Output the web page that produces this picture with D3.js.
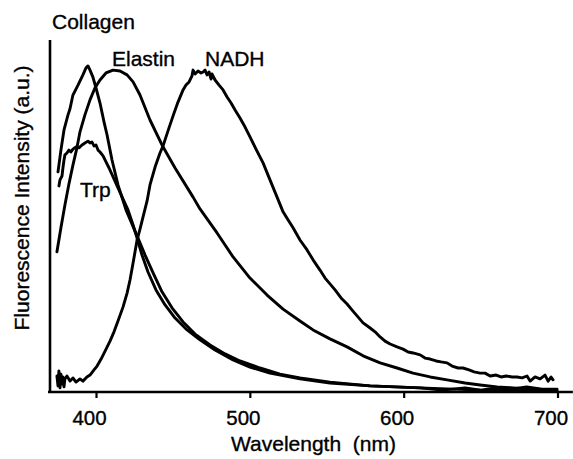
<!DOCTYPE html>
<html>
<head>
<meta charset="utf-8">
<script src="https://cdn.jsdelivr.net/npm/d3@7"></script>
<style>
  html, body { margin: 0; padding: 0; background: #fff; }
  svg { display: block; font-family: "Liberation Sans", Arial, Helvetica, sans-serif; }
  text { stroke: #000; stroke-width: 0.35px; }
</style>
</head>
<body>
<svg id="chart" width="573" height="459"></svg>
<script>
// ---- data (wavelength in nm, intensity in arbitrary units) ----
const collagenWl = [375.3,377.2,379.2,381.8,383.1,385.0,388.3,391.5,393.5,394.8,396.1,398.0,400.0,402.6,405.2,407.2,410.4,414.3,419.5,426.7,431.9,437.1,442.9,449.4,456.6,464.4,474.1,483.9,493.6,506.6,519.6,532.6,552.1,578.2,610.7,649.7,699.7];
const collagenI  = [68.8,75.6,81.9,86.6,88.5,92.8,95.9,99.1,101.3,101.9,100.6,98.4,95.0,90.3,84.4,80.3,72.5,64.7,56.9,48.8,42.8,37.2,31.3,26.3,21.9,18.1,14.7,11.9,9.7,7.5,5.6,4.4,3.1,1.9,1.3,0.6,0.3];

const trpWl = [375.9,376.6,377.9,378.5,379.2,379.8,381.1,382.4,383.7,385.0,387.0,388.9,390.9,392.8,394.8,396.1,397.4,398.7,400.0,401.3,402.6,404.6,406.5,408.5,411.1,414.3,417.6,420.8,424.1,426.7,429.9,433.8,439.0,444.9,451.4,459.2,467.6,477.4,489.1,500.1,513.1,532.6,552.1,578.2,610.7,625.0,640.0,650.0,660.0,670.0,680.0,690.0,699.7];
const trpI  = [64.4,66.3,67.5,70.0,72.5,74.1,74.7,75.6,75.0,75.9,76.6,76.3,77.2,77.8,78.4,77.8,78.1,76.9,77.2,75.6,75.0,73.8,71.9,70.0,67.2,63.8,60.3,56.9,52.2,48.1,42.8,37.5,31.9,27.2,23.1,19.4,16.3,13.1,10.0,7.8,5.9,4.1,2.8,1.9,1.3,0.6,1.3,0.6,1.3,0.9,1.6,0.9,0.9];

const elastinWl = [374.6,377.2,379.8,382.4,385.0,387.6,389.6,392.8,396.1,399.3,402.6,406.5,411.1,415.6,420.2,424.1,428.6,435.1,442.9,451.4,463.1,467.6,478.7,489.1,500.1,511.2,521.6,532.6,541.1,552.1,563.2,573.6,584.7,595.7,606.1,617.2,628.2,639.9,649.7,660.7,671.1,685.4,699.7];
const elastinI  = [43.8,51.3,58.4,65.0,70.9,76.3,81.3,86.6,91.3,95.0,97.5,99.7,100.6,100.3,99.1,96.9,92.8,85.0,77.2,70.0,60.9,57.2,49.7,42.2,35.6,30.3,25.9,22.2,19.4,16.6,14.1,11.3,9.1,7.5,5.9,4.7,3.8,2.8,2.2,1.6,1.3,0.9,0.6];

const nadhWl = [374.6,375.3,375.9,376.6,377.2,377.9,378.5,379.2,379.8,381.1,383.1,385.0,387.0,389.6,391.5,394.1,396.1,398.7,400.7,403.3,405.9,409.1,411.7,414.3,417.6,420.2,422.1,424.1,426.7,428.6,431.2,433.2,435.1,438.4,441.6,443.6,446.8,450.1,453.3,456.6,458.5,460.5,462.4,463.1,464.4,466.3,468.3,469.6,470.9,472.2,473.5,474.8,475.4,477.4,480.0,482.6,485.2,487.8,490.4,493.6,496.9,500.1,504.0,508.6,513.1,517.7,521.6,524.8,528.1,532.6,537.2,541.1,545.6,548.9,552.1,555.4,559.3,563.2,566.5,570.4,573.6,578.2,581.4,584.7,587.9,591.2,595.7,599.6,602.9,606.1,610.7,613.9,617.2,621.1,624.3,628.2,631.5,635.4,638.6,642.5,645.8,649.7,652.9,656.2,660.1,663.3,666.6,670.5,673.7,677.0,680.2,682.2,685.4,688.7,691.9,693.9,695.8,697.1];
const nadhI  = [5.0,1.9,6.6,1.3,5.6,2.5,4.7,1.6,4.1,5.0,3.4,4.4,3.1,4.1,3.4,4.7,5.3,6.9,8.1,10.3,12.8,15.9,18.8,22.2,26.6,30.9,35.0,40.3,47.5,50.9,55.9,59.7,64.7,70.3,74.7,76.9,81.6,86.3,90.6,94.4,95.9,96.9,98.8,100.6,99.4,100.3,99.7,100.0,100.6,99.1,100.0,97.8,99.4,97.5,95.9,94.4,92.2,90.3,88.1,85.6,82.8,79.7,75.9,71.6,66.3,60.9,56.3,53.8,51.3,47.5,44.4,41.3,38.1,35.6,33.8,31.9,29.4,27.5,25.6,23.4,21.6,20.0,18.8,17.2,15.9,15.0,14.1,13.4,12.5,12.2,11.6,10.6,10.3,9.7,9.4,9.1,8.1,7.5,7.5,6.9,6.3,5.9,5.9,5.0,5.3,4.7,5.0,4.7,4.7,4.4,5.0,3.4,4.7,4.1,5.3,3.4,4.7,3.8];

const xTicks = [400, 500, 600, 700];
const seriesNames = ["Collagen", "Elastin", "NADH", "Trp"];
const xTitle = "Wavelength  (nm)";
const yTitle = "Fluorescence Intensity (a.u.)";

// ---- layout ----
const svg = d3.select("#chart");
const x = d3.scaleLinear().domain([400, 700]).range([96, 557.5]);
const y = d3.scaleLinear().domain([0, 110]).range([392, 40]);
const xMin = 368.8, xMax = 710;

const series = [
  {wl: collagenWl, v: collagenI},
  {wl: trpWl, v: trpI},
  {wl: elastinWl, v: elastinI},
  {wl: nadhWl, v: nadhI}
];

const line = d3.line().x(d => x(d[0])).y(d => y(d[1]));

svg.append("g")
  .selectAll("path")
  .data(series)
  .join("path")
  .attr("d", s => line(s.wl.map((w, i) => [w, s.v[i]])))
  .attr("fill", "none")
  .attr("stroke", "#000")
  .attr("stroke-width", 2.9)
  .attr("stroke-linejoin", "round")
  .attr("stroke-linecap", "round");

// axes
svg.append("line")
  .attr("x1", x(xMin)).attr("x2", x(xMax))
  .attr("y1", y(0)).attr("y2", y(0))
  .attr("stroke", "#000").attr("stroke-width", 2.6);
svg.append("line")
  .attr("x1", x(xMin) + 2).attr("x2", x(xMin) + 2)
  .attr("y1", y(0) + 1).attr("y2", y(110))
  .attr("stroke", "#000").attr("stroke-width", 2.6);

const xAxis = svg.append("g")
  .attr("transform", `translate(0,${y(0)})`)
  .call(d3.axisBottom(x).tickValues(xTicks).tickSize(6).tickPadding(12).tickSizeOuter(0).tickFormat(d3.format("d")));
xAxis.select(".domain").remove();
xAxis.selectAll(".tick line").attr("stroke", "#000").attr("stroke-width", 2.2);
xAxis.selectAll(".tick text")
  .attr("fill", "#000")
  .attr("font-size", 20.5)
  .attr("font-family", "'Liberation Sans', Arial, sans-serif")
  .attr("dx", -7);

// titles
svg.append("text")
  .attr("x", 313.5).attr("y", 451)
  .attr("text-anchor", "middle")
  .attr("font-size", 21)
  .style("white-space", "pre")
  .attr("fill", "#000")
  .text(xTitle);

svg.append("text")
  .attr("transform", "translate(29,198) rotate(-90)")
  .attr("text-anchor", "middle")
  .attr("font-size", 21)
  .attr("fill", "#000")
  .text(yTitle);

// series labels
const labelPos = [[52, 29], [112, 66], [205, 66], [80, 197]];
svg.append("g")
  .selectAll("text")
  .data(seriesNames)
  .join("text")
  .attr("x", (d, i) => labelPos[i][0])
  .attr("y", (d, i) => labelPos[i][1])
  .attr("font-size", 21)
  .attr("fill", "#000")
  .text(d => d);
</script>
</body>
</html>
